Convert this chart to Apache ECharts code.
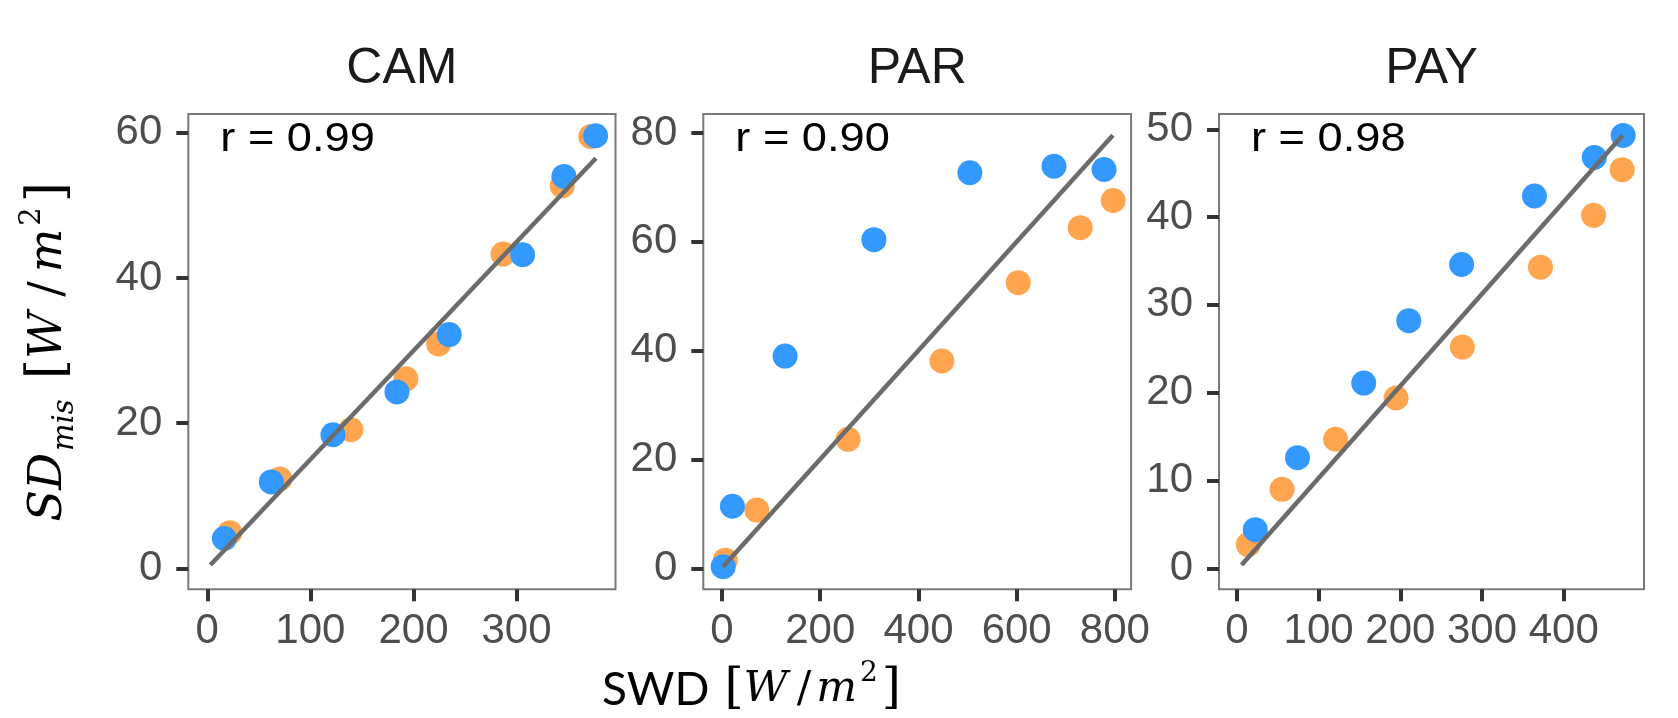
<!DOCTYPE html>
<html>
<head>
<meta charset="utf-8">
<script src="https://cdn.jsdelivr.net/npm/echarts@6/dist/echarts.min.js"></script>
<style>
  html, body { margin: 0; padding: 0; background: #ffffff; }
  #chart { width: 1678px; height: 718px; }
</style>
</head>
<body>
<div id="chart"></div>
<script>
// ---- data -------------------------------------------------------------
const panelNames = ['CAM', 'PAR', 'PAY'];
const corrLabels = ['r = 0.99', 'r = 0.90', 'r = 0.98'];

// CAM
const camOrangeX = [21.8, 70.4, 139.3, 192.7, 224.4, 286.9, 344.3, 372.0];
const camOrangeY = [4.9, 12.3, 19.1, 26.1, 30.9, 43.3, 52.7, 59.5];
const camBlueX = [16.6, 62.1, 121.9, 184.0, 234.7, 305.9, 346.0, 376.7];
const camBlueY = [4.1, 11.9, 18.4, 24.3, 32.2, 43.2, 54.0, 59.6];
const camFitX = [3, 377];
const camFitY = [0.44, 56.5];

// PAR
const parOrangeX = [6.6, 70.8, 256.7, 447.8, 603.2, 729.4, 796.5];
const parOrangeY = [1.5, 10.7, 23.7, 38.1, 52.5, 62.6, 67.6];
const parBlueX = [2.4, 21.2, 128.4, 309.3, 504.7, 676.0, 778.0];
const parBlueY = [0.3, 11.4, 39.0, 60.4, 72.7, 73.9, 73.3];
const parFitX = [2, 796];
const parFitY = [0.3, 79.6];

// PAY
const payOrangeX = [13.8, 55.2, 120.7, 194.8, 275.9, 371.6, 436.6, 471.6];
const payOrangeY = [2.7, 9.0, 14.7, 19.4, 25.2, 34.3, 40.2, 45.4];
const payBlueX = [22.4, 74.1, 155.2, 210.3, 275.0, 364.2, 437.5, 472.8];
const payBlueY = [4.4, 12.6, 21.1, 28.2, 34.6, 42.4, 46.8, 49.3];
const payFitX = [5.6, 472];
const payFitY = [0.37, 49.3];

// tick labels
const camXTicks = [0, 100, 200, 300];
const camYTicks = [0, 20, 40, 60];
const parXTicks = [0, 200, 400, 600, 800];
const parYTicks = [0, 20, 40, 60, 80];
const payXTicks = [0, 100, 200, 300, 400];
const payYTicks = [0, 10, 20, 30, 40, 50];

// ---- layout -----------------------------------------------------------
const PANEL_TOP = 114;
const PANEL_HEIGHT = 475.3;
const panels = [
  { left: 188.3, width: 427.2, xRange: [-18.4, 396], yRange: [-2.9, 62.6],
    orange: [camOrangeX, camOrangeY], blue: [camBlueX, camBlueY], fit: [camFitX, camFitY],
    xTicks: camXTicks, yTicks: camYTicks },
  { left: 703.3, width: 427.8, xRange: [-38.1, 833], yRange: [-3.86, 83.5],
    orange: [parOrangeX, parOrangeY], blue: [parBlueX, parBlueY], fit: [parFitX, parFitY],
    xTicks: parXTicks, yTicks: parYTicks },
  { left: 1219, width: 425, xRange: [-22, 498.3], yRange: [-2.39, 51.74],
    orange: [payOrangeX, payOrangeY], blue: [payBlueX, payBlueY], fit: [payFitX, payFitY],
    xTicks: payXTicks, yTicks: payYTicks }
];

const ORANGE = '#FFA54F';
const BLUE = '#3399FF';
const FIT = '#6B6B6B';
const TICK_FONT = 'Liberation Sans';

const zip = (xs, ys) => xs.map((x, i) => [x, ys[i]]);

const mathFont = 'DejaVu Serif';
const yNameRich = {
  i:   { fontFamily: mathFont, fontStyle: 'italic', fontWeight: 'normal', fontSize: 46, lineHeight: 62, color: '#000' },
  sub: { fontFamily: mathFont, fontStyle: 'italic', fontWeight: 'normal', fontSize: 29, lineHeight: 26, verticalAlign: 'bottom', color: '#000', padding: [0, 20, 0, 2] },
  b:   { fontFamily: mathFont, fontWeight: 'normal', fontSize: 52, lineHeight: 62, color: '#000' },
  sl:  { fontFamily: mathFont, fontWeight: 'normal', fontSize: 46, lineHeight: 62, color: '#000', padding: [0, 9, 0, 15] },
  sup: { fontFamily: mathFont, fontWeight: 'normal', fontSize: 29, lineHeight: 40, verticalAlign: 'top', color: '#000', padding: [0, 5, 0, 3] }
};
const xNameRich = {
  s:   { fontFamily: 'Lato', fontWeight: 'normal', fontSize: 46, lineHeight: 60, color: '#000', padding: [0, 15, 0, 0] },
  i:   { fontFamily: mathFont, fontStyle: 'italic', fontWeight: 'normal', fontSize: 43, lineHeight: 60, color: '#000' },
  b:   { fontFamily: mathFont, fontWeight: 'normal', fontSize: 49, lineHeight: 60, color: '#000' },
  sl:  { fontFamily: mathFont, fontWeight: 'normal', fontSize: 43, lineHeight: 60, color: '#000', padding: [0, 5, 0, 9] },
  sup: { fontFamily: mathFont, fontWeight: 'normal', fontSize: 28, lineHeight: 38, verticalAlign: 'top', color: '#000', padding: [0, 4, 0, 3] }
};

const grids = [], xAxes = [], yAxes = [], series = [], graphics = [];

panels.forEach((p, i) => {
  grids.push({
    left: p.left, top: PANEL_TOP, width: p.width, height: PANEL_HEIGHT,
    show: true, borderColor: '#7A7A7A', borderWidth: 2, backgroundColor: 'transparent'
  });
  xAxes.push({
    type: 'value', gridIndex: i, min: p.xRange[0], max: p.xRange[1], position: 'bottom',
    axisLine: { show: false, onZero: false }, splitLine: { show: false },
    axisTick: { show: true, length: 12, lineStyle: { color: '#333333', width: 4 }, customValues: p.xTicks },
    axisLabel: { customValues: p.xTicks, margin: 21, fontSize: 42, fontFamily: TICK_FONT, color: '#4D4D4D', hideOverlap: false }
  });
  const yAxis = {
    type: 'value', gridIndex: i, min: p.yRange[0], max: p.yRange[1], position: 'left',
    axisLine: { show: false, onZero: false }, splitLine: { show: false },
    axisTick: { show: true, length: 12, lineStyle: { color: '#333333', width: 4 }, customValues: p.yTicks },
    axisLabel: { customValues: p.yTicks, margin: 26, fontSize: 42, fontFamily: TICK_FONT, color: '#4D4D4D', hideOverlap: false }
  };
  if (i === 0) {
    yAxis.name = '{i|SD}{sub|mis}{b|[}{i|W}{sl|/}{i|m}{sup|2}{b|]}';
    yAxis.nameLocation = 'middle';
    yAxis.nameRotate = 90;
    yAxis.nameGap = 108;
    yAxis.nameTextStyle = { fontWeight: 'normal', rich: yNameRich };
  }
  yAxes.push(yAxis);

  series.push({
    name: panelNames[i] + ' (orange)', type: 'scatter', xAxisIndex: i, yAxisIndex: i,
    data: zip(p.orange[0], p.orange[1]), symbolSize: 25, clip: false, silent: true,
    itemStyle: { color: ORANGE, opacity: 1 }
  });
  series.push({
    name: panelNames[i] + ' fit', type: 'line', xAxisIndex: i, yAxisIndex: i,
    data: zip(p.fit[0], p.fit[1]), symbol: 'none', clip: false, silent: true,
    lineStyle: { color: FIT, width: 4.5 }
  });
  series.push({
    name: panelNames[i] + ' (blue)', type: 'scatter', xAxisIndex: i, yAxisIndex: i,
    data: zip(p.blue[0], p.blue[1]), symbolSize: 25, clip: false, silent: true,
    itemStyle: { color: BLUE, opacity: 1 }
  });

  // facet title
  graphics.push({
    type: 'text', x: p.left + p.width / 2, y: 69, silent: true,
    style: { text: panelNames[i], font: '50px "Liberation Sans"', fill: '#1A1A1A',
             textAlign: 'center', align: 'center', textVerticalAlign: 'middle', verticalAlign: 'middle' }
  });
  // correlation label
  graphics.push({
    type: 'text', x: p.left + 32, y: 140, scaleX: 1.13, silent: true,
    style: { text: corrLabels[i], font: '40px "Liberation Sans"', fill: '#000000',
             textAlign: 'left', align: 'left', textVerticalAlign: 'middle', verticalAlign: 'middle' }
  });
});

const chart = echarts.init(document.getElementById('chart'), null, { renderer: 'canvas' });
chart.setOption({
  animation: false,
  backgroundColor: '#ffffff',
  title: [{
    text: '{s|SWD}{b|[}{i|W}{sl|/}{i|m}{sup|2}{b|]}',
    left: 602, top: 660, padding: 0,
    textStyle: { fontWeight: 'normal', rich: xNameRich }
  }],
  grid: grids,
  xAxis: xAxes,
  yAxis: yAxes,
  series: series,
  graphic: graphics
});
</script>
</body>
</html>
